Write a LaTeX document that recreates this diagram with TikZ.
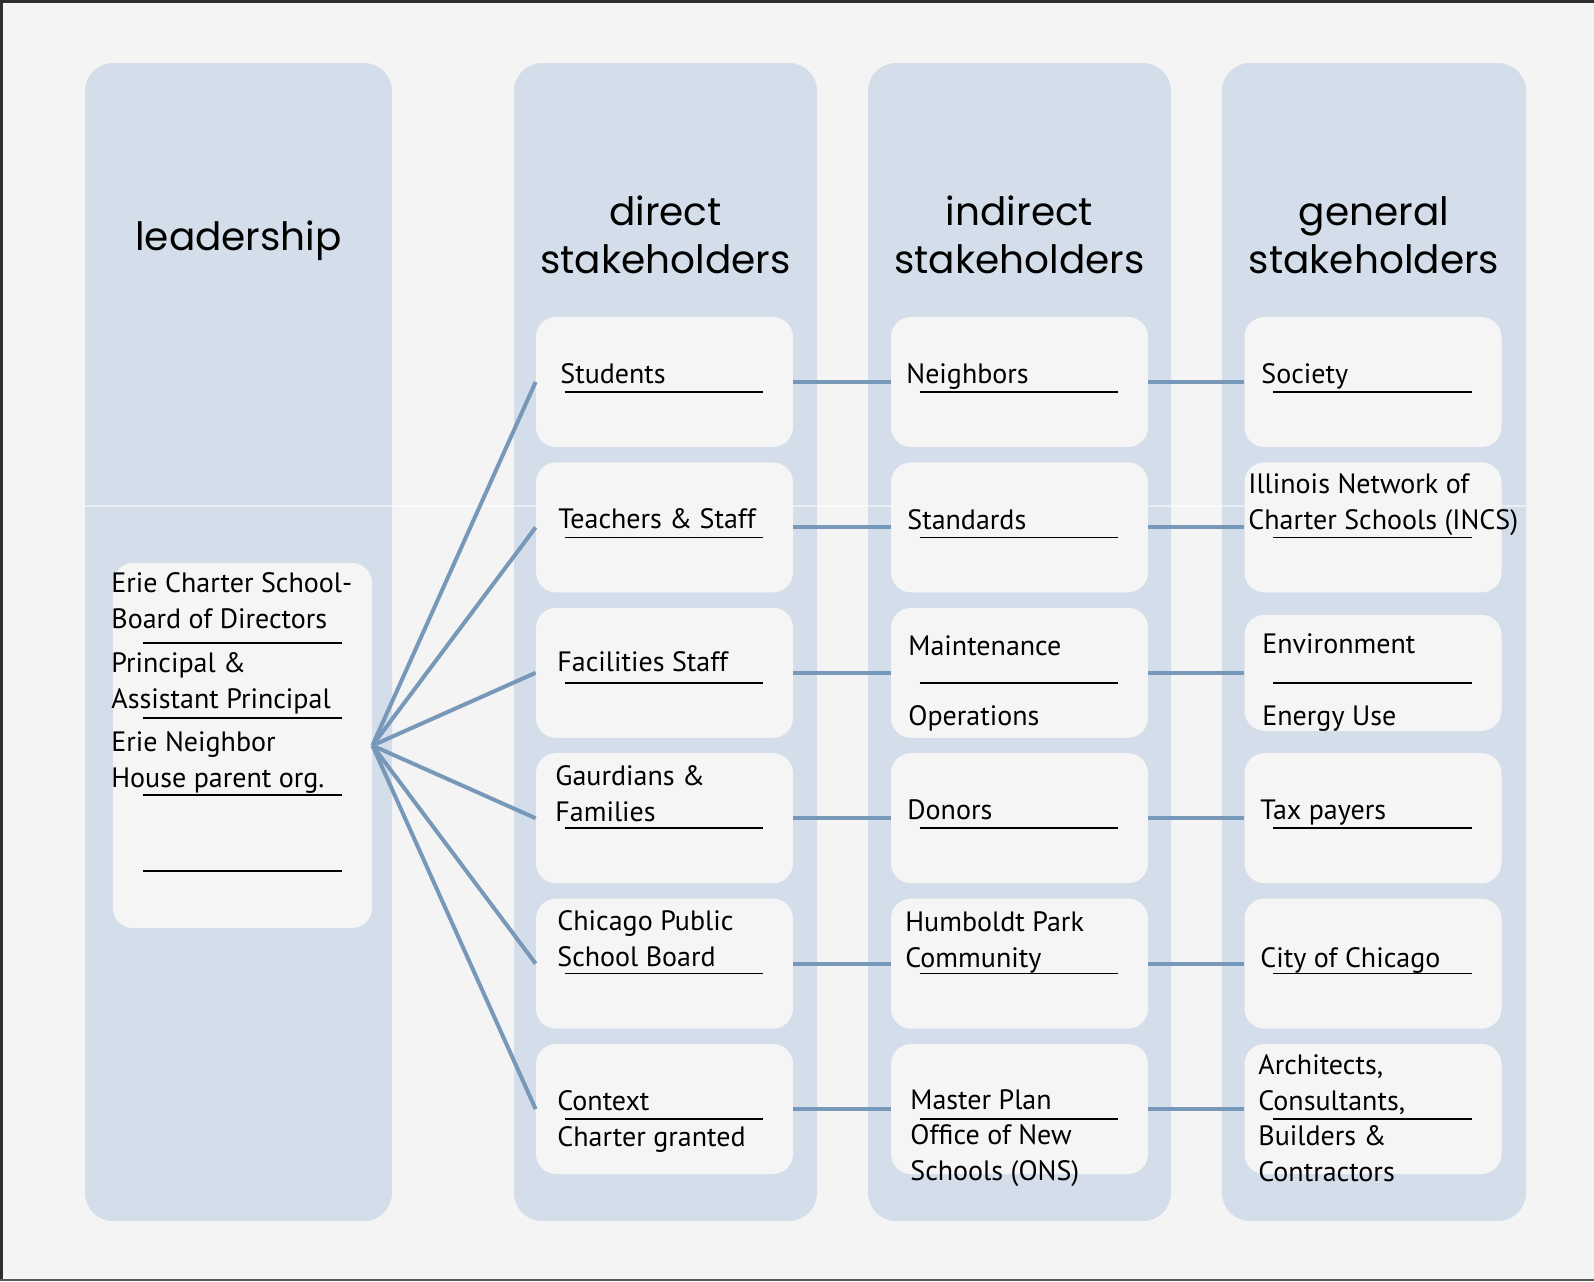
\documentclass[tikz,border=0pt]{standalone}
\usepackage{fontspec}
\setmainfont{PT Sans}
\newfontfamily\headfont{Poppins}

\definecolor{paper}{HTML}{F4F4F4}
\definecolor{lanecol}{HTML}{D3DEEA}
\definecolor{cellcol}{HTML}{F5F5F5}
\definecolor{tiecol}{HTML}{7898B9}
\definecolor{framecol}{HTML}{2E2E2E}

\begin{document}
\begin{tikzpicture}[
    x=0.5pt,
    y=-0.5pt,
    lane/.style={fill=lanecol, rounded corners=14pt},
    cell/.style={rectangle, fill=cellcol, rounded corners=10pt,
        minimum width=128.5pt, minimum height=65pt, inner sep=0pt},
    celltext/.style={anchor=base west, inner sep=0pt, align=left,
        font=\fontsize{14}{17.75}\selectfont},
    headtext/.style={anchor=base, inner sep=0pt, align=center,
        font=\headfont\fontsize{19.5}{24}\selectfont},
    blankline/.style={black, line width=0.75pt},
    tie/.style={draw=tiecol, line width=2pt}
]

%------------------------------------------------------------
% Page
%------------------------------------------------------------

\fill[paper] (0,0) rectangle (1594,1281);
\useasboundingbox (0,0) rectangle (1594,1281);

\draw[framecol, line width=1.5pt]
(1.5,1281)--(1.5,1.5)--(1594,1.5);

\draw[framecol!80, line width=1pt]
(0,1280)--(1594,1280);

%------------------------------------------------------------
% Lanes
%------------------------------------------------------------

\fill[lane] (85,63) rectangle (392,1221);     % leadership
\fill[lane] (514,63) rectangle (817,1221);    % direct
\fill[lane] (868,63) rectangle (1171,1221);   % indirect
\fill[lane] (1222,63) rectangle (1526,1221);  % general

\draw[white, opacity=0.5, line width=1pt]
(85,506)--(1526,506);

% multi-line nodes sit on their last baseline
\node[headtext] (hlead) at (238.5,250) {leadership};
\node[headtext] (hdir) at (665.5,273) {direct\\stakeholders};
\node[headtext] (hind) at (1019.5,273) {indirect\\stakeholders};
\node[headtext] (hgen) at (1374,273) {general\\stakeholders};

%------------------------------------------------------------
% Cells
%------------------------------------------------------------

\node[cell, minimum width=129.5pt, minimum height=182.5pt]
(lead) at (242.5,745.5) {};

\foreach \r/\y in {1/382,2/527.4,3/672.8,4/818.2,5/963.6,6/1109}{
    \node[cell] (d\r) at (664.5,\y) {};
    \node[cell] (i\r) at (1019.5,\y) {};
}

\node[cell] (g1) at (1373,382) {};
\node[cell] (g2) at (1373,527.4) {};
\node[cell, minimum height=58pt] (g3) at (1373,672.8) {};
\node[cell] (g4) at (1373,818.2) {};
\node[cell] (g5) at (1373,963.6) {};
\node[cell] (g6) at (1373,1109) {};

%------------------------------------------------------------
% Ties
%------------------------------------------------------------

\foreach \r in {1,...,6}{
    \draw[tie] (lead.east)--(d\r.west);
    \draw[tie] (d\r.east)--(i\r.west);
    \draw[tie] (i\r.east)--(g\r.west);
}

%------------------------------------------------------------
% Blank lines
%------------------------------------------------------------

\foreach \c in {d,i,g}{
    \foreach \r in {1,...,6}{
        \draw[blankline]
        ([xshift=14.5pt,yshift=-5pt]\c\r.west)--([xshift=-15pt,yshift=-5pt]\c\r.east);
    }
}

\foreach \y in {643,718,795,871}{
    \draw[blankline] (143,\y)--(342,\y);
}

%------------------------------------------------------------
% Texts
%------------------------------------------------------------

% leadership
\node[celltext] (t-board) at (111,628) {Erie Charter School-\\Board of Directors};
\node[celltext] (t-princ) at (111,708) {Principal \&\\Assistant Principal};
\node[celltext] (t-house) at (111,787) {Erie Neighbor\\House parent org.};

% direct
\node[celltext] (t-stud) at (560,383) {Students};
\node[celltext] (t-teach) at (558,528) {Teachers \& Staff};
\node[celltext] (t-fac) at (557,671) {Facilities Staff};
\node[celltext] (t-fam) at (555,821) {Gaurdians \&\\Families};
\node[celltext] (t-cps) at (557,966) {Chicago Public\\School Board};
\node[celltext] (t-ctx) at (557,1146) {Context\\Charter granted};

% indirect
\node[celltext] (t-neigh) at (906,383) {Neighbors};
\node[celltext] (t-std) at (907,529) {Standards};
\node[celltext] (t-maint) at (908,655) {Maintenance};
\node[celltext] (t-ops) at (908,725) {Operations};
\node[celltext] (t-don) at (907,819) {Donors};
\node[celltext] (t-hp) at (905,967) {Humboldt Park\\Community};
\node[celltext] (t-plan) at (910,1180) {Master Plan\\Office of New\\Schools (ONS)};

% general
\node[celltext] (t-soc) at (1261,383) {Society};
\node[celltext] (t-incs) at (1248,529) {Illinois Network of\\Charter Schools (INCS)};
\node[celltext] (t-env) at (1262,653) {Environment};
\node[celltext] (t-nrg) at (1262,725) {Energy Use};
\node[celltext] (t-tax) at (1260,819) {Tax payers};
\node[celltext] (t-city) at (1260,967) {City of Chicago};
\node[celltext] (t-arch) at (1258,1181) {Architects,\\Consultants,\\Builders \&\\Contractors};

\end{tikzpicture}
\end{document}
